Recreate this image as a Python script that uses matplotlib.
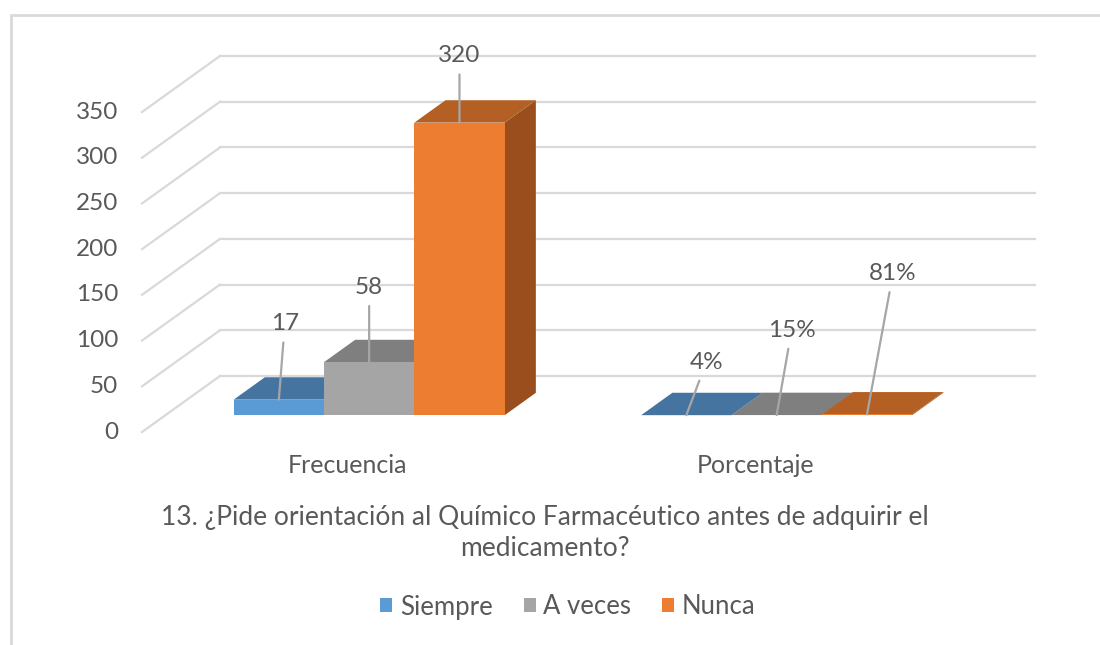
import matplotlib
matplotlib.use("Agg")
import matplotlib.pyplot as plt
from matplotlib.patches import Polygon, Rectangle, Patch

# data
categories = ["Frecuencia", "Porcentaje"]
series = ["Siempre", "A veces", "Nunca"]
frecuencia = [17, 58, 320]
porcentaje = [0.04, 0.15, 0.81]
frecuencia_labels = ["17", "58", "320"]
porcentaje_labels = ["4%", "15%", "81%"]
y_ticks = [0, 50, 100, 150, 200, 250, 300, 350]
title = "13. ¿Pide orientación al Químico Farmacéutico antes de adquirir el\nmedicamento?"

front_colors = ["#5B9BD5", "#A5A5A5", "#ED7D31"]
top_colors = ["#44749F", "#7F7F7F", "#B45F23"]
side_colors = ["#3A6389", "#6E6E6E", "#9A4E1E"]
text_color = "#595959"
grid_color = "#D9D9D9"

# label offsets (pixels) from the front top edge of each bar
label_offsets = [[(6, 76), (0, 75), (0, 67)],
                 [(20, 53), (15, 85), (26, 141)]]

plt.rcParams["font.family"] = ["Lato", "DejaVu Sans"]

# fake 3D: depth shift in data units
DX = 0.1914
DY = 61.25
z0, z1 = 0.3, 0.7
group_w = 0.665
bar_w = group_w / 3


def proj(x, v, z):
    return x + z * DX, v + z * DY


fig = plt.figure(figsize=(11, 6.45), dpi=100)
ax = fig.add_axes([0, 0, 1, 1])
ax.set_xlim(-0.3485, 2.3509)
ax.set_ylim(-232.96, 472.5)
ax.axis("off")

# outer border
fig.add_artist(Rectangle((11 / 1100, -0.1), 1.2, 1.1 - 15 / 645, fill=False,
                         edgecolor=grid_color, lw=2, transform=fig.transFigure))

# gridlines: back wall + left wall diagonals
n_cat = len(categories)
for v in y_ticks:
    xa, ya = proj(0, v, 1)
    xb, yb = proj(n_cat, v, 1)
    ax.plot([xa, xb], [ya, yb], color=grid_color, lw=1.6, zorder=1)
    xf, yf = proj(0, v, 0)
    ax.plot([xf, xa], [yf, ya], color=grid_color, lw=1.6, zorder=1)
    ax.annotate(str(v), (xf, yf), xytext=(-24, 0), textcoords="offset pixels",
                ha="right", va="center", fontsize=17.5, color=text_color)

# bars
for c, (vals, labels) in enumerate([(frecuencia, frecuencia_labels),
                                    (porcentaje, porcentaje_labels)]):
    center = c + 0.5
    for i, v in enumerate(vals):
        xl = center - group_w / 2 + i * bar_w
        xr = xl + bar_w
        # side face
        side = [proj(xr, 0, z0), proj(xr, v, z0), proj(xr, v, z1), proj(xr, 0, z1)]
        ax.add_patch(Polygon(side, closed=True, facecolor=side_colors[i],
                             edgecolor="none", zorder=2 + i))
        # top face
        top = [proj(xl, v, z0), proj(xr, v, z0), proj(xr, v, z1), proj(xl, v, z1)]
        ax.add_patch(Polygon(top, closed=True, facecolor=top_colors[i],
                             edgecolor="none", zorder=2 + i))
        # front face
        ax.bar(xl + z0 * DX, v, width=bar_w, bottom=z0 * DY, align="edge",
               color=front_colors[i], edgecolor="none", zorder=2 + i)
        # data label with leader line
        ax_x, ax_y = proj(xl + bar_w / 2, v, z0)
        ax.annotate(labels[i], (ax_x, ax_y), xytext=label_offsets[c][i],
                    textcoords="offset pixels", ha="center", va="center",
                    fontsize=17.5, color=text_color, zorder=10,
                    arrowprops=dict(arrowstyle="-", color="#A6A6A6", lw=1.6,
                                    shrinkA=4, shrinkB=0))
    # category label
    cx, cy = proj(center, 0, 0)
    ax.annotate(categories[c], (cx, cy), xytext=(2, -33), textcoords="offset pixels",
                ha="center", va="center", fontsize=18, color=text_color)

# title
fig.text(545 / 1100, 1 - 533 / 645, title, ha="center", va="center",
         fontsize=19, color=text_color, linespacing=1.3)

# legend
handles = [Patch(facecolor=front_colors[i], label=series[i]) for i in range(3)]
fig.legend(handles=handles, loc="center", bbox_to_anchor=(568 / 1100, 1 - 607 / 645),
           ncol=3, frameon=False, fontsize=18.5, handlelength=0.47, handleheight=0.47,
           handletextpad=0.3, columnspacing=1.2, labelcolor=text_color)

fig.savefig("out.png", dpi=100)
